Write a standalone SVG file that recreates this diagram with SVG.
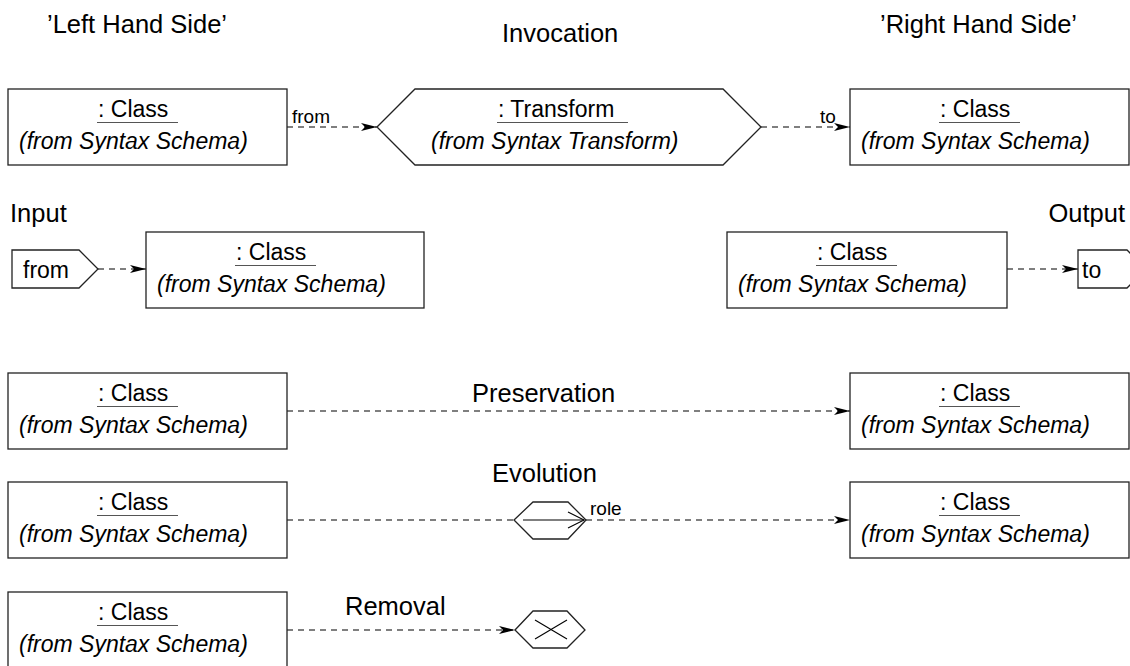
<svg xmlns="http://www.w3.org/2000/svg" width="1130" height="666" viewBox="0 0 1130 666">
<style>
text{font-family:"Liberation Sans",Arial,sans-serif;fill:#000}
.title{font-size:25.5px}
.cls{font-size:23px}
.it{font-size:23px;font-style:italic}
.lbl{font-size:19px}
.box{fill:#fff;stroke:#222;stroke-width:1.3}
.ul{stroke:#555;stroke-width:1.2}
.dash{fill:none;stroke:#000;stroke-width:1.1;stroke-dasharray:6 5}
.sym{fill:none;stroke:#000;stroke-width:1.1}
</style>
<defs>
<marker id="arr" markerUnits="userSpaceOnUse" markerWidth="16" markerHeight="8" refX="16" refY="4" orient="auto">
<path d="M0,0 L16,4 L0,8 L4,4 z" fill="#000"/>
</marker>
<g id="classContent">
<text class="cls" x="90" y="28">: Class</text>
<line class="ul" x1="89" y1="33.5" x2="170" y2="33.5"/>
<text class="it" x="11" y="60">(from Syntax Schema)</text>
</g>
</defs>

<g id="titles">
<text class="title" x="47" y="33">’Left Hand Side’</text>
<text class="title" x="502" y="42">Invocation</text>
<text class="title" x="880" y="33">’Right Hand Side’</text>
<text class="title" x="10" y="222">Input</text>
<text class="title" x="1125" y="222" text-anchor="end">Output</text>
<text class="title" x="472" y="402">Preservation</text>
<text class="title" x="492" y="482">Evolution</text>
<text class="title" x="345" y="615">Removal</text>
</g>

<g id="connectors">
<path class="dash" d="M287,127 H377" marker-end="url(#arr)"/>
<path class="dash" d="M761,127 H850" marker-end="url(#arr)"/>
<path class="dash" d="M98,269 H146" marker-end="url(#arr)"/>
<path class="dash" d="M1007,269 H1078" marker-end="url(#arr)"/>
<path class="dash" d="M287,411 H850" marker-end="url(#arr)"/>
<path class="dash" d="M287,520 H514"/>
<path class="dash" d="M586,520 H850" marker-end="url(#arr)"/>
<path class="dash" d="M287,630 H515" marker-end="url(#arr)"/>
<text class="lbl" x="292" y="123">from</text>
<text class="lbl" x="820" y="123">to</text>
<text class="lbl" x="590" y="515">role</text>
</g>

<g id="lhs-invocation">
<rect class="box" x="8" y="89" width="279" height="76"/>
<use href="#classContent" x="8" y="89"/>
</g>
<g id="transform">
<polygon class="box" points="377,127 415,89 723,89 761,127 723,165 415,165"/>
<text class="cls" x="498" y="117">: Transform</text>
<line class="ul" x1="497" y1="122.5" x2="628" y2="122.5"/>
<text class="it" x="431" y="149">(from Syntax Transform)</text>
</g>
<g id="rhs-invocation">
<rect class="box" x="850" y="89" width="279" height="76"/>
<use href="#classContent" x="850" y="89"/>
</g>

<g id="input-from">
<polygon class="box" points="12,250 79,250 98,269 79,288 12,288"/>
<text class="cls" x="23" y="278">from</text>
</g>
<g id="input-class">
<rect class="box" x="146" y="232" width="278" height="76"/>
<use href="#classContent" x="146" y="232"/>
</g>
<g id="output-class">
<rect class="box" x="727" y="232" width="280" height="76"/>
<use href="#classContent" x="727" y="232"/>
</g>
<g id="output-to">
<polygon class="box" points="1078,250 1127,250 1146,269 1127,288 1078,288"/>
<text class="cls" x="1082" y="278">to</text>
</g>

<g id="pres-lhs">
<rect class="box" x="8" y="373" width="279" height="76"/>
<use href="#classContent" x="8" y="373"/>
</g>
<g id="pres-rhs">
<rect class="box" x="850" y="373" width="279" height="76"/>
<use href="#classContent" x="850" y="373"/>
</g>

<g id="evo-lhs">
<rect class="box" x="8" y="482" width="279" height="76"/>
<use href="#classContent" x="8" y="482"/>
</g>
<g id="evo-symbol">
<polygon class="box" points="514,520 533,502 568,502 586,520 568,539 533,539"/>
<line class="sym" x1="523" y1="520" x2="584" y2="520"/>
<polyline class="sym" points="568,512 584,520 568,528"/>
</g>
<g id="evo-rhs">
<rect class="box" x="850" y="482" width="279" height="76"/>
<use href="#classContent" x="850" y="482"/>
</g>

<g id="rem-lhs">
<rect class="box" x="8" y="592" width="279" height="76"/>
<use href="#classContent" x="8" y="592"/>
</g>
<g id="rem-symbol">
<polygon class="box" points="515,630 533,611 567,611 585,630 567,648 533,648"/>
<line class="sym" x1="535" y1="620" x2="567" y2="639"/>
<line class="sym" x1="535" y1="639" x2="567" y2="620"/>
</g>
</svg>
